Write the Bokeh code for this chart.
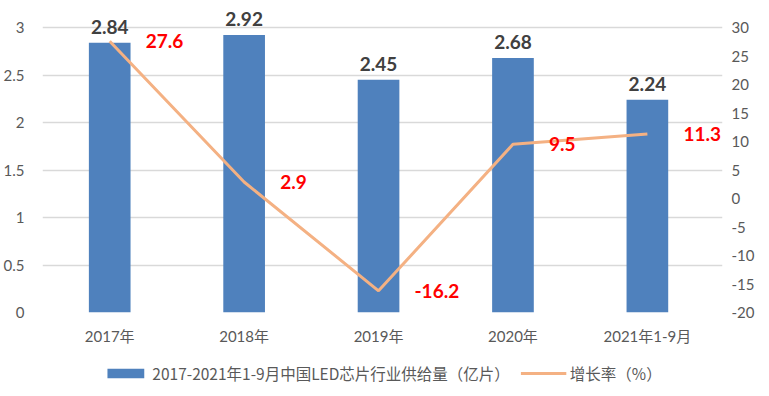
from bokeh.plotting import figure
from bokeh.layouts import column
from bokeh.core.properties import value
from bokeh.models import (ColumnDataSource, Range1d, LinearAxis, Legend, LegendItem,
                          FixedTicker, CustomJSTickFormatter, LabelSet)
from bokeh.embed import file_html
from bokeh.resources import INLINE

categories = ["2017年", "2018年", "2019年", "2020年", "2021年1-9月"]
supply = [2.84, 2.92, 2.45, 2.68, 2.24]
growth = [27.6, 2.9, -16.2, 9.5, 11.3]
left_ticks = [0, 0.5, 1, 1.5, 2, 2.5, 3]
right_ticks = [-20, -15, -10, -5, 0, 5, 10, 15, 20, 25, 30]
bar_name = "2017-2021年1-9月中国LED芯片行业供给量（亿片）"
line_name = "增长率（%）"

FONT = "Lato, 'Noto Sans CJK SC'"
CJK = "'Noto Sans CJK SC'"
GRAY = "#595959"
BLUE = "#4F81BD"
ORANGE = "#F4B183"

n = len(categories)
src = ColumnDataSource(dict(
    xs=[i + 0.5 for i in range(n)],  # category slot centres
    supply=supply, growth=growth,
    supply_lbl=[f"{v:.2f}" for v in supply],
    growth_lbl=[f"{v:g}" for v in growth],
))

W, H, LEG_H = 769, 350, 46
TOP, BOTTOM, LEFT, RIGHT = 5, 38, 42, 39
grid_top = 27     # pixel row of the top tick
cat_right = 722   # pixel column where the last category slot ends
frame_h = H - TOP - BOTTOM
ext = frame_h / (H - BOTTOM - grid_top)
xext = (W - RIGHT - LEFT) / (cat_right - LEFT)
l0, l1 = left_ticks[0], left_ticks[-1]
r0, r1 = right_ticks[0], right_ticks[-1]

p = figure(width=W, height=H, x_range=Range1d(0, n * xext),
           y_range=Range1d(l0, l0 + (l1 - l0) * ext),
           output_backend="svg", toolbar_location=None,
           min_border_left=LEFT, min_border_right=RIGHT, min_border_top=TOP, min_border_bottom=BOTTOM)
p.outline_line_color = None
p.extra_y_ranges = {"rate": Range1d(r0, r0 + (r1 - r0) * ext)}

p.vbar(x="xs", top="supply", width=0.31, source=src, fill_color=BLUE, line_color=None)
p.line(x="xs", y="growth", source=src, y_range_name="rate", line_color=ORANGE, line_width=3)

p.add_layout(LabelSet(x="xs", y="supply", text="supply_lbl", source=src, text_align="center",
                      text_baseline="alphabetic", y_offset=9, text_font=value(FONT),
                      text_font_style="bold", text_font_size="19px", text_color="#404040"))
p.add_layout(LabelSet(x="xs", y="growth", text="growth_lbl", source=src, y_range_name="rate",
                      text_align="left", text_baseline="middle", x_offset=36, text_font=value(FONT),
                      text_font_style="bold", text_font_size="19px", text_color="#FF0000"))

fmt = CustomJSTickFormatter(code="return String(Math.round(tick*100)/100);")
p.yaxis.ticker = FixedTicker(ticks=left_ticks)
p.yaxis.formatter = fmt
ra = LinearAxis(y_range_name="rate", ticker=FixedTicker(ticks=right_ticks), formatter=fmt)
p.add_layout(ra, "right")

p.xaxis.ticker = FixedTicker(ticks=[i + 0.5 for i in range(n)])
p.xaxis.formatter = CustomJSTickFormatter(args=dict(cats=categories),
                                          code="return cats[Math.floor(tick)];")

for ax in [p.yaxis[0], ra, p.xaxis[0]]:
    ax.axis_line_color = None
    ax.major_tick_line_color = None
    ax.minor_tick_line_color = None
    ax.major_label_text_color = GRAY
    ax.major_label_text_font = FONT
    ax.major_label_text_font_size = "15px"
p.yaxis[0].major_label_standoff = 12
ra.major_label_standoff = 3
p.xaxis.major_label_standoff = 8

p.xgrid.grid_line_color = None
p.ygrid.grid_line_color = "#D9D9D9"
p.ygrid.grid_line_width = 1.5

# legend strip below the chart (its renderers sit outside the visible range)
pl = figure(width=W, height=LEG_H, x_range=Range1d(0, n), y_range=Range1d(100, 101),
            output_backend="svg", toolbar_location=None,
            min_border_left=LEFT, min_border_right=W - cat_right, min_border_top=0, min_border_bottom=0)
pl.axis.visible = False
pl.grid.grid_line_color = None
pl.outline_line_color = None
lb = pl.vbar(x="xs", top="supply", width=0.31, source=src, fill_color=BLUE, line_color=None)
ll = pl.line(x="xs", y="growth", source=src, line_color=ORANGE, line_width=3)
legend = Legend(items=[LegendItem(label=bar_name, renderers=[lb]),
                       LegendItem(label=line_name, renderers=[ll])],
                location="center", orientation="horizontal", padding=0, margin=0, spacing=10,
                glyph_width=46, glyph_height=12, label_standoff=4,
                label_text_font=CJK, label_text_font_size="15.5px",
                label_text_color=GRAY, border_line_color=None, background_fill_alpha=0)
pl.add_layout(legend, "center")

layout = column(p, pl)
open("out.html", "w").write(file_html(layout, INLINE))
